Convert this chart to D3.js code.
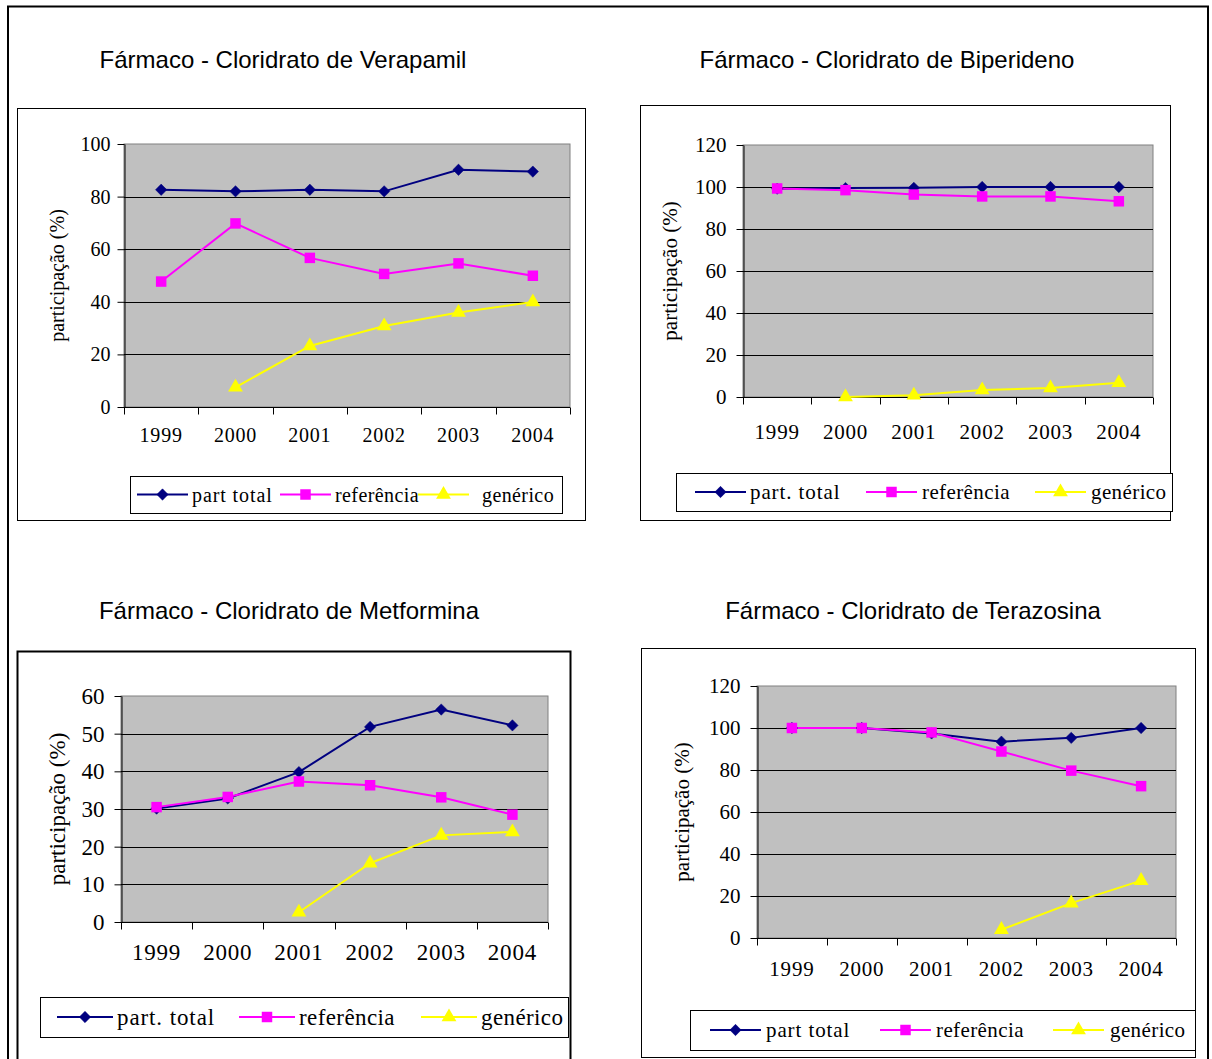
<!DOCTYPE html>
<html>
<head>
<meta charset="utf-8">
<script src="https://cdn.jsdelivr.net/npm/d3@7"></script>
<style>
  html, body { margin: 0; padding: 0; background: #fff; }
  svg { display: block; }
</style>
</head>
<body>
<svg id="page" width="1212" height="1059"></svg>
<script>
// Years shown on every category axis
const years = ['1999', '2000', '2001', '2002', '2003', '2004'];

// Verapamil (%)
const verapamilTotal = [82.6, 82.0, 82.6, 82.0, 90.2, 89.5];
const verapamilRef   = [47.7, 69.8, 56.7, 50.6, 54.6, 49.9];
const verapamilGen   = [null, 7.5, 23.2, 30.8, 35.9, 39.9];
const verapamilTicks = [0, 20, 40, 60, 80, 100];

// Biperideno (%)
const biperidenoTotal = [99.2, 99.5, 99.6, 100, 100, 100];
const biperidenoRef   = [99.3, 98.5, 96.4, 95.5, 95.5, 93.2];
const biperidenoGen   = [null, 0.0, 0.8, 3.3, 4.3, 6.8];
const biperidenoTicks = [0, 20, 40, 60, 80, 100, 120];

// Metformina (%)
const metforminaTotal = [30.1, 32.8, 39.8, 51.8, 56.4, 52.2];
const metforminaRef   = [30.5, 33.2, 37.3, 36.3, 33.1, 28.5];
const metforminaGen   = [null, null, 2.6, 15.6, 23.0, 23.9];
const metforminaTicks = [0, 10, 20, 30, 40, 50, 60];

// Terazosina (%)
const terazosinaTotal = [100, 100, 97.4, 93.5, 95.3, 100];
const terazosinaRef   = [100, 100, 97.9, 88.8, 79.7, 72.3];
const terazosinaGen   = [null, null, null, 4.0, 16.6, 27.3];
const terazosinaTicks = [0, 20, 40, 60, 80, 100, 120];

const yAxisTitle = 'participação (%)';

const colors = { total: '#000080', ref: '#FF00FF', gen: '#FFFF00' };

const svg = d3.select('#page');

// page frame
svg.append('path')
  .attr('d', 'M8,1060 V6.5 H1208 V1060')
  .attr('fill', 'none').attr('stroke', '#000').attr('stroke-width', 2);

// chart panels: frame, title, plot area, legend
const panels = [
  {
    title: 'Fármaco - Cloridrato de Verapamil', titleX: 283, titleY: 68,
    frame: [17, 108, 585, 520], frameW: 1,
    plot: [124, 144, 570, 407], font: 20, tickPad: 7, yearOffset: 27,
    yTitleX: 57, ticks: verapamilTicks,
    totalLabel: 'part total',
    series: [verapamilTotal, verapamilRef, verapamilGen],
    legend: { box: [130, 476, 562, 513], items: [137, 280, 418], texts: [192, 335, 482], line: 51 }
  },
  {
    title: 'Fármaco - Cloridrato de Biperideno', titleX: 887, titleY: 68,
    frame: [640, 105, 1170, 520], frameW: 1,
    plot: [743, 145, 1153, 397], font: 21, tickPad: 10, yearOffset: 34,
    yTitleX: 670, ticks: biperidenoTicks,
    totalLabel: 'part. total',
    series: [biperidenoTotal, biperidenoRef, biperidenoGen],
    legend: { box: [676, 473, 1172, 511], items: [695, 866, 1035], texts: [750, 922, 1091], line: 51 }
  },
  {
    title: 'Fármaco - Cloridrato de Metformina', titleX: 289, titleY: 619,
    frame: [17, 651, 570, 1062], frameW: 2,
    plot: [121, 696, 548, 922], font: 23, tickPad: 10, yearOffset: 30,
    yTitleX: 57, ticks: metforminaTicks,
    totalLabel: 'part. total',
    series: [metforminaTotal, metforminaRef, metforminaGen],
    legend: { box: [40, 997, 568, 1037], items: [57, 239, 421], texts: [117, 299, 481], line: 56 }
  },
  {
    title: 'Fármaco - Cloridrato de Terazosina', titleX: 913, titleY: 619,
    frame: [641, 648, 1195, 1057], frameW: 1,
    plot: [757, 686, 1176, 938], font: 21, tickPad: 10, yearOffset: 30,
    yTitleX: 682, ticks: terazosinaTicks,
    totalLabel: 'part total',
    series: [terazosinaTotal, terazosinaRef, terazosinaGen],
    legend: { box: [690, 1010, 1195, 1050], items: [710, 880, 1053], texts: [766, 936, 1110], line: 51 }
  }
];

const markerKeys = ['total', 'ref', 'gen'];

function marker(g, key, x, y) {
  if (key === 'total') {
    g.append('path')
      .attr('d', d3.symbol(d3.symbolSquare, 64)())
      .attr('transform', `translate(${x},${y}) rotate(45)`)
      .attr('fill', colors.total).attr('stroke', colors.total).attr('stroke-width', 0.5);
  } else if (key === 'ref') {
    g.append('path')
      .attr('d', d3.symbol(d3.symbolSquare, 110)())
      .attr('transform', `translate(${x},${y})`)
      .attr('fill', colors.ref);
  } else {
    g.append('path')
      .attr('d', d3.symbol(d3.symbolTriangle, 95)())
      .attr('transform', `translate(${x},${y})`)
      .attr('fill', colors.gen);
  }
}

const fontSerif = 'Liberation Serif, Times New Roman, serif';

panels.forEach(p => {
  const g = svg.append('g');
  const [fx0, fy0, fx1, fy1] = p.frame;
  g.append('rect')
    .attr('x', fx0 + 0.5).attr('y', fy0 + 0.5)
    .attr('width', fx1 - fx0).attr('height', fy1 - fy0)
    .attr('fill', '#fff').attr('stroke', '#000').attr('stroke-width', p.frameW);

  svg.append('text')
    .attr('x', p.titleX).attr('y', p.titleY)
    .attr('text-anchor', 'middle')
    .attr('font-family', 'Liberation Sans, Arial, sans-serif')
    .attr('font-size', 24)
    .text(p.title);

  const [px0, py0, px1, py1] = p.plot;
  const x = d3.scaleBand().domain(years).range([px0, px1]).padding(0);
  const y = d3.scaleLinear().domain([0, d3.max(p.ticks)]).range([py1, py0]);

  // grey plot area
  g.append('rect')
    .attr('x', px0).attr('y', py0)
    .attr('width', px1 - px0).attr('height', py1 - py0)
    .attr('fill', '#C0C0C0').attr('stroke', '#808080').attr('stroke-width', 1);

  // horizontal gridlines
  g.append('g')
    .selectAll('line').data(p.ticks.filter(t => t > 0 && t < d3.max(p.ticks)))
    .join('line')
    .attr('x1', px0).attr('x2', px1)
    .attr('y1', d => Math.round(y(d)) + 0.5).attr('y2', d => Math.round(y(d)) + 0.5)
    .attr('stroke', '#000').attr('stroke-width', 1);

  // y axis
  const yAxis = g.append('g')
    .attr('transform', `translate(${px0 + 0.5},0)`)
    .call(d3.axisLeft(y).tickValues(p.ticks).tickSize(7).tickSizeOuter(0).tickPadding(p.tickPad));
  yAxis.select('.domain').attr('stroke', '#000');
  yAxis.selectAll('.tick line').attr('stroke', '#000');
  yAxis.selectAll('text')
    .attr('font-family', fontSerif).attr('font-size', p.font).attr('fill', '#000');

  // x axis: ticks on category boundaries, labels centered in each band
  const xAxis = g.append('g').attr('transform', `translate(0,${py1 + 0.5})`);
  xAxis.append('line')
    .attr('x1', px0).attr('x2', px1).attr('stroke', '#000');
  const bounds = years.map(d => x(d)).concat([px1]);
  xAxis.selectAll('line.tk').data(bounds).join('line')
    .attr('class', 'tk')
    .attr('x1', d => Math.round(d) + 0.5).attr('x2', d => Math.round(d) + 0.5)
    .attr('y1', 0).attr('y2', 7).attr('stroke', '#000');
  xAxis.selectAll('text').data(years).join('text')
    .attr('x', d => x(d) + x.bandwidth() / 2)
    .attr('y', p.yearOffset)
    .attr('text-anchor', 'middle')
    .attr('dominant-baseline', 'central')
    .attr('letter-spacing', 0.8)
    .attr('font-family', fontSerif).attr('font-size', p.font)
    .text(d => d);

  // y axis title
  g.append('text')
    .attr('transform', `translate(${p.yTitleX},${(py0 + py1) / 2}) rotate(-90)`)
    .attr('text-anchor', 'middle')
    .attr('dominant-baseline', 'central')
    .attr('font-family', fontSerif).attr('font-size', p.font)
    .text(yAxisTitle);

  // series lines and markers
  const cx = (i) => x(years[i]) + x.bandwidth() / 2;
  const line = d3.line()
    .defined(d => d != null)
    .x((d, i) => cx(i))
    .y(d => y(d));

  const drawOrder = [2, 0, 1]; // genérico underneath, referência on top
  drawOrder.forEach(si => {
    g.append('path')
      .datum(p.series[si])
      .attr('d', line)
      .attr('fill', 'none')
      .attr('stroke', colors[markerKeys[si]])
      .attr('stroke-width', 2);
  });
  drawOrder.forEach(si => {
    p.series[si].forEach((v, i) => {
      if (v != null) marker(g, markerKeys[si], cx(i), y(v));
    });
  });

  // legend
  const L = p.legend;
  const [lx0, ly0, lx1, ly1] = L.box;
  const lg = g.append('g');
  lg.append('rect')
    .attr('x', lx0 + 0.5).attr('y', ly0 + 0.5)
    .attr('width', lx1 - lx0).attr('height', ly1 - ly0)
    .attr('fill', '#fff').attr('stroke', '#000').attr('stroke-width', 1);
  const labels = [p.totalLabel, 'referência', 'genérico'];
  const ly = (ly0 + ly1) / 2;
  L.items.forEach((ix, k) => {
    lg.append('line')
      .attr('x1', ix).attr('x2', ix + L.line)
      .attr('y1', ly).attr('y2', ly)
      .attr('stroke', colors[markerKeys[k]]).attr('stroke-width', 2);
    marker(lg, markerKeys[k], ix + L.line / 2, ly);
    lg.append('text')
      .attr('x', L.texts[k]).attr('y', ly)
      .attr('dominant-baseline', 'central')
      .attr('letter-spacing', k === 0 ? 0.9 : 0.4)
      .attr('font-family', fontSerif).attr('font-size', p.font)
      .text(labels[k]);
  });
});
</script>
</body>
</html>
